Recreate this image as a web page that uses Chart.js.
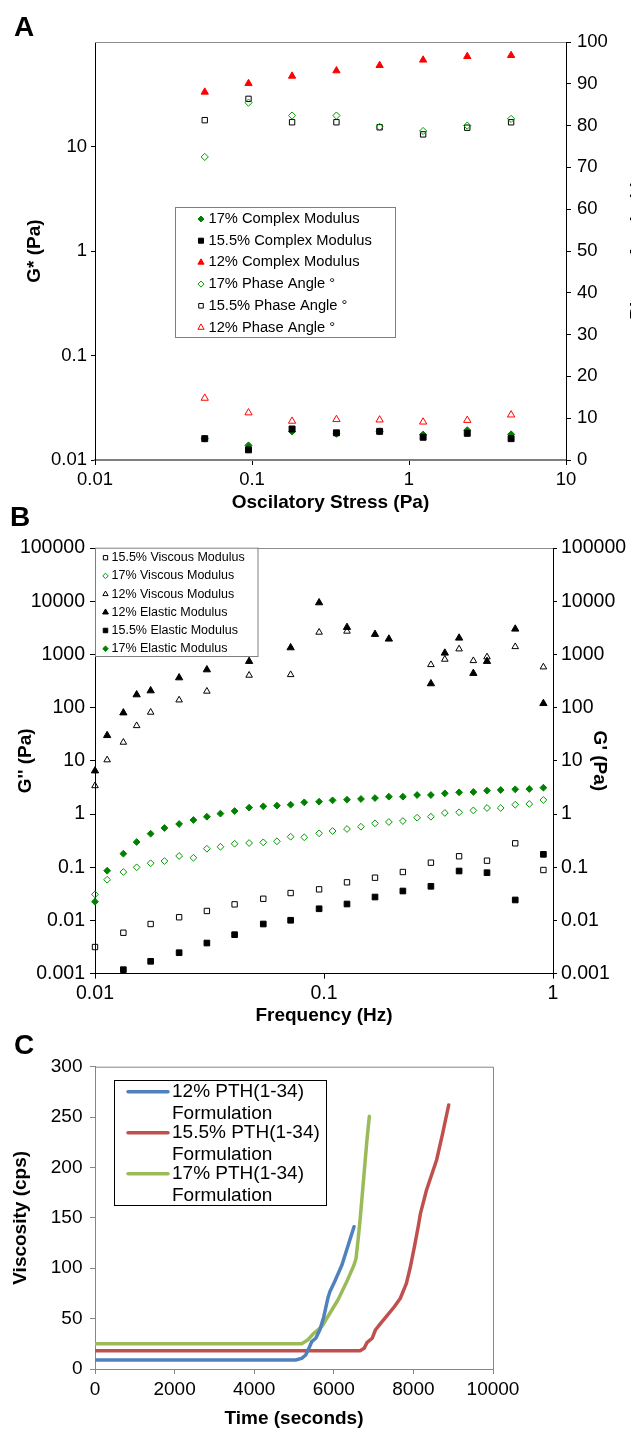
<!DOCTYPE html>
<html lang="en">
<head>
  <meta charset="UTF-8" />
  <title>PTH(1-34) gel rheology</title>
  <script src="https://cdn.jsdelivr.net/npm/chart.js@4.4.1/dist/chart.umd.min.js"></script>
  <style>
    html, body { margin: 0; padding: 0; background: #fff; overflow: hidden; }
    #page { position: relative; width: 631px; height: 1429px; font-family: "Liberation Sans", Arial, sans-serif; }
    canvas { position: absolute; left: 0; }
    .tag { position: absolute; font-weight: bold; font-size: 28px; line-height: 1; }
  </style>
</head>
<body>
<div id="page">
  <canvas id="chartA" width="631" height="520" style="top:0"></canvas>
  <canvas id="chartB" width="631" height="510" style="top:520px"></canvas>
  <canvas id="chartC" width="631" height="399" style="top:1030px"></canvas>
  <div class="tag" style="left:14px;top:13px">A</div>
  <div class="tag" style="left:10px;top:503px">B</div>
  <div class="tag" style="left:14px;top:1031px">C</div>
</div>

<script>
  // ---- A: stress sweep ----
  const stressPa   = [0.05, 0.095, 0.18, 0.345, 0.65, 1.23, 2.35, 4.47];
  const complex17  = [0.0160, 0.0138, 0.0187, 0.0178, 0.0188, 0.0175, 0.0193, 0.0176];
  const complex155 = [0.0160, 0.0125, 0.0198, 0.0182, 0.0188, 0.0165, 0.0180, 0.0160];
  const complex12  = [33.2, 40.1, 47.2, 53.1, 59.7, 67.3, 72.8, 74.4];
  const phase17    = [72.5, 85.5, 82.4, 82.4, 79.7, 78.7, 80.0, 81.6];
  const phase155   = [81.3, 86.4, 80.8, 80.8, 79.6, 77.9, 79.5, 80.8];
  const phase12    = [14.8, 11.3, 9.3, 9.7, 9.6, 9.1, 9.5, 10.8];
  const stressTicks = [0.01, 0.1, 1, 10];
  const gStarTicks  = [0.01, 0.1, 1, 10];
  const phaseTicks  = [0, 10, 20, 30, 40, 50, 60, 70, 80, 90, 100];

  // ---- B: frequency sweep (null = no point at that frequency) ----
  const freqHz = [0.01, 0.0113, 0.0133, 0.0152, 0.0175, 0.0201, 0.0233, 0.0269, 0.0308, 0.0353, 0.0407,
                  0.0471, 0.0543, 0.0623, 0.0715, 0.082, 0.0952, 0.109, 0.126, 0.145, 0.167, 0.192,
                  0.221, 0.255, 0.293, 0.337, 0.389, 0.449, 0.515, 0.591, 0.684, 0.788, 0.908];
  const viscous155 = [0.00317, null, 0.00589, null, 0.00859, null, 0.0115, null, 0.0151, null, 0.0201, null,
                      0.0256, null, 0.0328, null, 0.0385, null, 0.0521, null, 0.0637, null, 0.0815, null,
                      0.122, null, 0.161, null, 0.133, null, 0.282, null, 0.0889];
  const viscous17  = [0.031, 0.0583, 0.0815, 0.0998, 0.119, 0.131, 0.163, 0.151, 0.223, 0.243, 0.277, 0.286,
                      0.294, 0.308, 0.375, 0.366, 0.435, 0.48, 0.524, 0.578, 0.67, 0.71, 0.74, 0.853,
                      0.891, 1.05, 1.08, 1.17, 1.3, 1.3, 1.5, 1.55, 1.84];
  const viscous12  = [3.4, 10.4, 22.3, 45.7, 81.7, null, 139, null, 203, null, null, 405, null, null, 416, null,
                      2605, null, 2720, null, null, null, null, null, 641, 809, 1265, 762, 895, null, 1396, null, 580];
  const elastic12  = [6.5, 30, 80, 175, 208, null, 365, null, 516, null, null, 742, null, null, 1339, null,
                      9380, null, 3230, null, 2390, 1950, null, null, 282, 1063, 2035, 442, 742, null, 3005, null, 120];
  const elastic155 = [null, null, 0.00119, null, 0.00171, null, 0.00248, null, 0.00377, null, 0.00541, null,
                      0.00859, null, 0.0101, null, 0.0166, null, 0.0204, null, 0.0276, null, 0.0358, null,
                      0.0439, null, 0.0851, null, 0.0791, null, 0.0243, null, 0.175];
  const elastic17  = [0.0225, 0.0861, 0.18, 0.298, 0.428, 0.547, 0.65, 0.773, 0.891, 1.02, 1.14, 1.32,
                      1.4, 1.44, 1.5, 1.66, 1.71, 1.81, 1.86, 1.92, 2.0, 2.12, 2.12, 2.28, 2.28, 2.45,
                      2.56, 2.6, 2.75, 2.83, 2.92, 2.96, 3.13];
  const freqTicks    = [0.01, 0.1, 1];
  const modulusTicks = [0.001, 0.01, 0.1, 1, 10, 100, 1000, 10000, 100000];

  // ---- C: viscosity vs time ----
  const time12  = [0, 5040, 5192, 5294, 5374, 5445, 5547, 5648, 5749, 5850, 5901, 6002, 6204, 6508];
  const visc12  = [8.9, 8.9, 10.6, 13.9, 20.5, 27.1, 30.5, 38.7, 51.9, 70.2, 76.7, 85, 103.2, 141.2];
  const time155 = [0, 6660, 6761, 6832, 6964, 7045, 7166, 7318, 7520, 7672, 7824, 7925, 8026, 8128, 8178, 8330, 8583, 8735, 8887];
  const visc155 = [18.2, 18.2, 20.5, 26.1, 30.5, 38.7, 44.7, 51.9, 61.8, 70.2, 85, 101.5, 121.4, 142.9, 154.5, 177.6, 207.4, 233.9, 262];
  const time17  = [0, 5192, 5344, 5496, 5698, 5901, 6103, 6306, 6508, 6559, 6609, 6660, 6761, 6832, 6893];
  const visc17  = [25.1, 25.1, 28.8, 35.4, 42, 55.3, 68.5, 85, 103.2, 109.8, 128, 147.9, 194, 227, 250.7];
  const timeTicks = [0, 2000, 4000, 6000, 8000, 10000];
  const viscTicks = [0, 50, 100, 150, 200, 250, 300];

  const FONT = '"Liberation Sans", Arial, sans-serif';
  Chart.defaults.font.family = FONT;
  Chart.defaults.color = '#000';

  const pts = (xs, ys) => xs.map((x, i) => ({ x: x, y: ys[i] })).filter(p => p.y !== null);
  const useTicks = list => s => { s.ticks = list.map(v => ({ value: v })); };
  const label = v => String(v);

  // plot frame: top line only, or full box
  const frame = {
    id: 'frame',
    beforeDatasetsDraw(chart, args, o) {
      const { left, right, top, bottom } = chart.chartArea;
      const ctx = chart.ctx;
      ctx.save();
      ctx.strokeStyle = o.color;
      ctx.lineWidth = 1;
      ctx.beginPath();
      if (o.box) ctx.rect(left + 0.5, top + 0.5, right - left, bottom - top);
      else { ctx.moveTo(left, top + 0.5); ctx.lineTo(right, top + 0.5); }
      ctx.stroke();
      ctx.restore();
    }
  };

  // secondary axis title of A: reads bottom-to-top and runs off the right edge
  const edgeTitle = {
    id: 'edgeTitle',
    afterDraw(chart, args, o) {
      const ctx = chart.ctx;
      ctx.save();
      ctx.translate(o.x, o.y);
      ctx.rotate(-Math.PI / 2);
      ctx.font = o.font;
      ctx.textAlign = 'center';
      ctx.textBaseline = 'alphabetic';
      ctx.fillStyle = '#000';
      ctx.fillText(o.text, 0, 0);
      ctx.restore();
    }
  };

  // legend box placed inside the plot, as in the figure
  const boxLegend = {
    id: 'boxLegend',
    afterDraw(chart, args, o) {
      const ctx = chart.ctx;
      ctx.save();
      ctx.fillStyle = '#fff';
      ctx.fillRect(o.x, o.y, o.w, o.h);
      ctx.strokeStyle = o.border;
      ctx.lineWidth = 1;
      ctx.strokeRect(o.x + 0.5, o.y + 0.5, o.w, o.h);
      ctx.font = o.font;
      ctx.textBaseline = 'middle';
      o.order.forEach((di, i) => {
        const ds = chart.data.datasets[di];
        const cy = o.y + o.top + i * o.rowH;
        if (o.lines) {
          ctx.strokeStyle = ds.borderColor;
          ctx.lineWidth = ds.borderWidth;
          ctx.lineCap = 'round';
          ctx.beginPath();
          ctx.moveTo(o.x + o.mx, cy);
          ctx.lineTo(o.x + o.mx + o.lineLen, cy);
          ctx.stroke();
        } else {
          ctx.fillStyle = ds.pointBackgroundColor;
          ctx.strokeStyle = ds.pointBorderColor;
          ctx.lineWidth = ds.pointBorderWidth;
          Chart.helpers.drawPoint(ctx, {
            pointStyle: ds.pointStyle, rotation: 0,
            radius: ds.pointRadius * o.scale, borderWidth: ds.pointBorderWidth
          }, o.x + o.mx, cy);
        }
        ctx.fillStyle = '#000';
        ds.label.split('\n').forEach((line, k) => {
          ctx.fillText(line, o.x + o.tx, cy + k * (o.lineGap || 0));
        });
      });
      ctx.restore();
    }
  };

  function marker(style, r, fill, stroke, extra) {
    return Object.assign({
      showLine: false, pointStyle: style, pointRadius: r, pointHoverRadius: r,
      pointBackgroundColor: fill, pointBorderColor: stroke, pointBorderWidth: 1, clip: false
    }, extra);
  }

  const titleFont = { size: 19, weight: 'bold', lineHeight: 1.2 };
  const none = 'rgba(0,0,0,0)';

  // ---------- A ----------
  const tickA = { size: 18.5 };
  new Chart(document.getElementById('chartA'), {
    type: 'scatter',
    data: {
      datasets: [
        marker('rectRot', 3.5, '#008000', '#008000', { label: '17% Complex Modulus', data: pts(stressPa, complex17), yAxisID: 'y', order: 6 }),
        marker('rect', 4.2, '#000', '#000', { label: '15.5% Complex Modulus', data: pts(stressPa, complex155), yAxisID: 'y', order: 1 }),
        marker('triangle', 4.2, '#ff0000', '#ff0000', { label: '12% Complex Modulus', data: pts(stressPa, complex12), yAxisID: 'y', order: 2 }),
        marker('rectRot', 3.6, none, '#009900', { label: '17% Phase Angle \u00b0', data: pts(stressPa, phase17), yAxisID: 'y2', order: 3 }),
        marker('rect', 3.8, none, '#000', { label: '15.5% Phase Angle \u00b0', data: pts(stressPa, phase155), yAxisID: 'y2', order: 4 }),
        marker('triangle', 4.2, none, '#ff0000', { label: '12% Phase Angle \u00b0', data: pts(stressPa, phase12), yAxisID: 'y2', order: 5 })
      ]
    },
    options: {
      responsive: false, animation: false,
      layout: { padding: { top: 42, left: 0, right: 0, bottom: 0 } },
      plugins: {
        legend: { display: false }, tooltip: { enabled: false },
        frame: { color: '#8c8c8c' },
        edgeTitle: { text: 'Phase Angle (\u00b0)', x: 643, y: 250, font: 'bold 19px ' + FONT },
        boxLegend: { x: 175, y: 207, w: 220, h: 130, top: 12, rowH: 21.7, mx: 26, tx: 33.5, scale: 0.85,
                     font: '14.7px ' + FONT, border: '#7f7f7f', order: [0, 1, 2, 3, 4, 5] }
      },
      scales: {
        x: {
          type: 'logarithmic', min: 0.01, max: 10,
          afterBuildTicks: useTicks(stressTicks), afterFit: s => { s.height = 60; },
          ticks: { font: tickA, padding: 4, callback: label, autoSkip: false, maxRotation: 0 },
          grid: { drawOnChartArea: false, tickLength: 5, color: '#000' },
          border: { color: '#7f7f7f', width: 2 },
          title: { display: true, text: 'Oscilatory Stress (Pa)', font: titleFont, padding: { top: 0, bottom: 5.6 } }
        },
        y: {
          type: 'logarithmic', position: 'left', min: 0.01, max: 100,
          afterBuildTicks: useTicks(gStarTicks), afterFit: s => { s.width = 95; },
          ticks: { font: tickA, padding: 4, callback: label, autoSkip: false },
          grid: { drawOnChartArea: false, tickLength: 4, color: '#000' },
          border: { color: '#000', width: 1 },
          title: { display: true, text: 'G* (Pa)', font: titleFont, padding: { top: 23, bottom: 0 } }
        },
        y2: {
          type: 'linear', position: 'right', min: 0, max: 100,
          afterBuildTicks: useTicks(phaseTicks), afterFit: s => { s.width = 65; },
          ticks: { font: tickA, padding: 6, callback: label, autoSkip: false },
          grid: { drawOnChartArea: false, tickLength: 5, color: '#000' },
          border: { color: '#000', width: 1 }
        }
      }
    },
    plugins: [frame, boxLegend, edgeTitle]
  });

  // ---------- B ----------
  const tickB = { size: 19.5 };
  new Chart(document.getElementById('chartB'), {
    type: 'scatter',
    data: {
      datasets: [
        marker('rect', 3.8, none, '#000', { label: '15.5% Viscous Modulus', data: pts(freqHz, viscous155), yAxisID: 'y', order: 5 }),
        marker('rectRot', 3.4, none, '#009900', { label: '17% Viscous Modulus', data: pts(freqHz, viscous17), yAxisID: 'y', order: 4 }),
        marker('triangle', 3.8, none, '#000', { label: '12% Viscous Modulus', data: pts(freqHz, viscous12), yAxisID: 'y', order: 6 }),
        marker('triangle', 4.2, '#000', '#000', { label: '12% Elastic Modulus', data: pts(freqHz, elastic12), yAxisID: 'y2', order: 1 }),
        marker('rect', 4, '#000', '#000', { label: '15.5% Elastic Modulus', data: pts(freqHz, elastic155), yAxisID: 'y2', order: 2 }),
        marker('rectRot', 3.4, '#008000', '#008000', { label: '17% Elastic Modulus', data: pts(freqHz, elastic17), yAxisID: 'y2', order: 3 })
      ]
    },
    options: {
      responsive: false, animation: false,
      layout: { padding: { top: 28, left: 0, right: 0, bottom: 0 } },
      plugins: {
        legend: { display: false }, tooltip: { enabled: false },
        frame: { color: '#8c8c8c' },
        boxLegend: { x: 95, y: 27.7, w: 162.5, h: 108.3, top: 10, rowH: 18.2, mx: 10.5, tx: 16.5, scale: 0.8,
                     font: '12.5px ' + FONT, border: '#7f7f7f', order: [0, 1, 2, 3, 4, 5] }
      },
      scales: {
        x: {
          type: 'logarithmic', min: 0.01, max: 1,
          afterBuildTicks: useTicks(freqTicks), afterFit: s => { s.height = 56.3; },
          ticks: { font: tickB, padding: 3, callback: label, autoSkip: false, maxRotation: 0 },
          grid: { drawOnChartArea: false, tickLength: 5, color: '#000' },
          border: { color: '#000', width: 1 },
          title: { display: true, text: 'Frequency (Hz)', font: titleFont, padding: { top: 0, bottom: 2.6 } }
        },
        y: {
          type: 'logarithmic', position: 'left', min: 0.001, max: 100000,
          afterBuildTicks: useTicks(modulusTicks), afterFit: s => { s.width = 95; },
          ticks: { font: tickB, padding: 5, callback: label, autoSkip: false },
          grid: { drawOnChartArea: false, tickLength: 5, color: '#000' },
          border: { color: '#000', width: 1 },
          title: { display: true, text: "G'' (Pa)", font: titleFont, padding: { top: 14.6, bottom: 0 } }
        },
        y2: {
          type: 'logarithmic', position: 'right', min: 0.001, max: 100000,
          afterBuildTicks: useTicks(modulusTicks), afterFit: s => { s.width = 78; },
          ticks: { font: tickB, padding: 4, callback: label, autoSkip: false },
          grid: { drawOnChartArea: false, tickLength: 4, color: '#000' },
          border: { color: '#000', width: 1 },
          title: { display: true, text: "G' (Pa)", font: titleFont, padding: { top: 20, bottom: 0 } }
        }
      }
    },
    plugins: [frame, boxLegend]
  });

  // ---------- C ----------
  const tickC = { size: 19 };
  const grey = '#868686';
  const lineSet = (lbl, xs, ys, color) => ({
    label: lbl, data: pts(xs, ys), showLine: true, borderColor: color, borderWidth: 3.5,
    borderCapStyle: 'round', borderJoinStyle: 'round', pointRadius: 0, tension: 0, fill: false
  });
  new Chart(document.getElementById('chartC'), {
    type: 'scatter',
    data: {
      datasets: [
        lineSet('12% PTH(1-34)\nFormulation', time12, visc12, '#4f81bd'),
        lineSet('15.5% PTH(1-34)\nFormulation', time155, visc155, '#c0504d'),
        lineSet('17% PTH(1-34)\nFormulation', time17, visc17, '#9bbb59')
      ]
    },
    options: {
      responsive: false, animation: false,
      layout: { padding: { top: 36.7, left: 0, right: 138, bottom: 0 } },
      plugins: {
        legend: { display: false }, tooltip: { enabled: false },
        frame: { color: grey, box: true },
        boxLegend: { x: 114, y: 50, w: 212, h: 125, top: 11.7, rowH: 41, mx: 14, lineLen: 40, tx: 58, lineGap: 21.6,
                     lines: true, font: '19px ' + FONT, border: '#000', order: [0, 1, 2] }
      },
      scales: {
        x: {
          type: 'linear', min: 0, max: 10000,
          afterBuildTicks: useTicks(timeTicks), afterFit: s => { s.height = 60; },
          ticks: { font: tickC, padding: 4.6, callback: label, autoSkip: false, maxRotation: 0 },
          grid: { drawOnChartArea: false, tickLength: 5, color: grey },
          border: { color: grey, width: 1 },
          title: { display: true, text: 'Time (seconds)', font: titleFont, padding: { top: 0, bottom: -1.4 } }
        },
        y: {
          type: 'linear', position: 'left', min: 0, max: 300,
          afterBuildTicks: useTicks(viscTicks), afterFit: s => { s.width = 95; },
          ticks: { font: tickC, padding: 7.5, callback: label, autoSkip: false },
          grid: { drawOnChartArea: false, tickLength: 5, color: grey },
          border: { color: grey, width: 1 },
          title: { display: true, text: 'Viscosity (cps)', font: titleFont, padding: { top: 9.6, bottom: 0 } }
        }
      }
    },
    plugins: [frame, boxLegend]
  });
</script>
</body>
</html>
